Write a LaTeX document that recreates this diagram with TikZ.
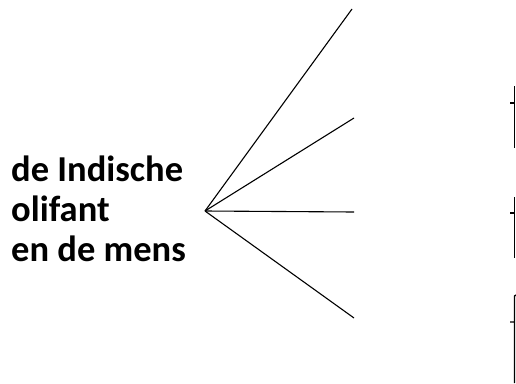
\documentclass[tikz,border=0pt]{standalone}
\usepackage{fontspec}
\setmainfont{Carlito}
\begin{document}
\begin{tikzpicture}[x=1pt,y=-1pt,
  lbl/.style={anchor=base west,inner sep=0pt,font=\fontsize{36.5}{40}\selectfont\bfseries},
  ray/.style={line width=1.1pt},
  brk/.style={line width=1.3pt}]
\useasboundingbox[fill=white] (0,0) rectangle (516,383);
\node[lbl] (t1) at (11,181) {de Indische};
\node[lbl] (t2) at (11,221) {olifant};
\node[lbl] (t3) at (11,261) {en de mens};
\coordinate (hub) at (205,211);
\coordinate (e1) at (352,9);
\coordinate (e2) at (354,118);
\coordinate (e3) at (354,212);
\coordinate (e4) at (354,318);
\draw[ray] (hub) -- (e1);
\draw[ray] (hub) -- (e2);
\draw[ray] (hub) -- (e3);
\draw[ray] (hub) -- (e4);
% brackets cut at right edge
\draw[brk] (514.5,86) -- (514.5,148) (510,103) -- (514.5,103);
\draw[brk] (514.5,197) -- (514.5,258) (510,213) -- (514.5,213);
\draw[brk] (516,295) -- (514.5,296) -- (514.5,383) (510,322) -- (514.5,322);
\end{tikzpicture}
\end{document}
